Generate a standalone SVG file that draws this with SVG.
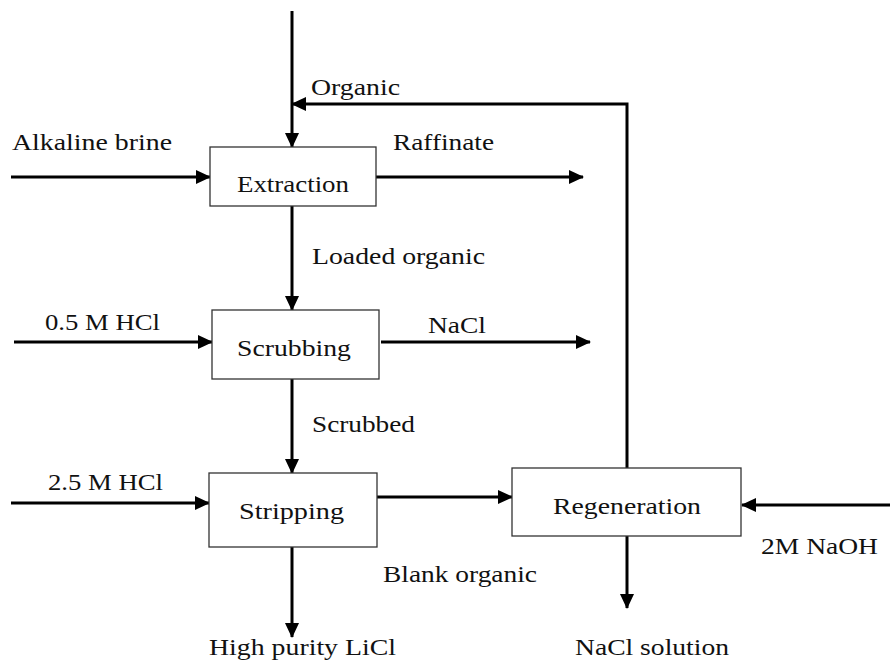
<svg xmlns="http://www.w3.org/2000/svg" width="890" height="662" viewBox="0 0 890 662">
<style>
  .box{fill:#fff;stroke:#333;stroke-width:1.3}
  .ln{fill:none;stroke:#000;stroke-width:3}
  .t{font-family:"Liberation Serif","Times New Roman",serif;font-size:23px;fill:#111}
</style>
<defs>
  <marker id="ah" markerUnits="userSpaceOnUse" markerWidth="16" markerHeight="14" refX="14" refY="7" orient="auto">
    <path d="M0,0 L15,7 L0,14 Z" fill="#000"/>
  </marker>
</defs>
<rect width="890" height="662" fill="#fff"/>
<g id="connectors">
  <path class="ln" d="M292,11 V147" marker-end="url(#ah)"/>
  <path class="ln" d="M627,469 V104 H292" marker-end="url(#ah)"/>
  <path class="ln" d="M11,177 H210" marker-end="url(#ah)"/>
  <path class="ln" d="M376,177 H583" marker-end="url(#ah)"/>
  <path class="ln" d="M292,206 V310" marker-end="url(#ah)"/>
  <path class="ln" d="M14,342 H212" marker-end="url(#ah)"/>
  <path class="ln" d="M381,342 H590" marker-end="url(#ah)"/>
  <path class="ln" d="M292,379 V473" marker-end="url(#ah)"/>
  <path class="ln" d="M11,503 H209" marker-end="url(#ah)"/>
  <path class="ln" d="M377,497 H512" marker-end="url(#ah)"/>
  <path class="ln" d="M292,547 V637" marker-end="url(#ah)"/>
  <path class="ln" d="M627,536 V608" marker-end="url(#ah)"/>
  <path class="ln" d="M890,505 H742" marker-end="url(#ah)"/>
</g>
<g id="extraction">
  <rect class="box" x="210" y="147" width="166" height="59"/>
  <text class="t" x="237" y="192" textLength="112" lengthAdjust="spacingAndGlyphs">Extraction</text>
</g>
<g id="scrubbing">
  <rect class="box" x="212" y="310" width="167" height="69"/>
  <text class="t" x="237" y="356" textLength="114" lengthAdjust="spacingAndGlyphs">Scrubbing</text>
</g>
<g id="stripping">
  <rect class="box" x="209" y="473" width="168" height="74"/>
  <text class="t" x="239" y="519" textLength="105" lengthAdjust="spacingAndGlyphs">Stripping</text>
</g>
<g id="regeneration">
  <rect class="box" x="512" y="468" width="229" height="68"/>
  <text class="t" x="553" y="514" textLength="148" lengthAdjust="spacingAndGlyphs">Regeneration</text>
</g>
<g id="labels">
  <text class="t" x="311" y="95" textLength="89" lengthAdjust="spacingAndGlyphs">Organic</text>
  <text class="t" x="393" y="150" textLength="101" lengthAdjust="spacingAndGlyphs">Raffinate</text>
  <text class="t" x="12" y="150" textLength="160" lengthAdjust="spacingAndGlyphs">Alkaline brine</text>
  <text class="t" x="312" y="264" textLength="173" lengthAdjust="spacingAndGlyphs">Loaded organic</text>
  <text class="t" x="45" y="330" textLength="115" lengthAdjust="spacingAndGlyphs">0.5 M HCl</text>
  <text class="t" x="428" y="333" textLength="58" lengthAdjust="spacingAndGlyphs">NaCl</text>
  <text class="t" x="312" y="432" textLength="103" lengthAdjust="spacingAndGlyphs">Scrubbed</text>
  <text class="t" x="48" y="490" textLength="115" lengthAdjust="spacingAndGlyphs">2.5 M HCl</text>
  <text class="t" x="383" y="582" textLength="154" lengthAdjust="spacingAndGlyphs">Blank organic</text>
  <text class="t" x="761" y="554" textLength="117" lengthAdjust="spacingAndGlyphs">2M NaOH</text>
  <text class="t" x="209" y="655" textLength="187" lengthAdjust="spacingAndGlyphs">High purity LiCl</text>
  <text class="t" x="575" y="655" textLength="154" lengthAdjust="spacingAndGlyphs">NaCl solution</text>
</g>
</svg>
